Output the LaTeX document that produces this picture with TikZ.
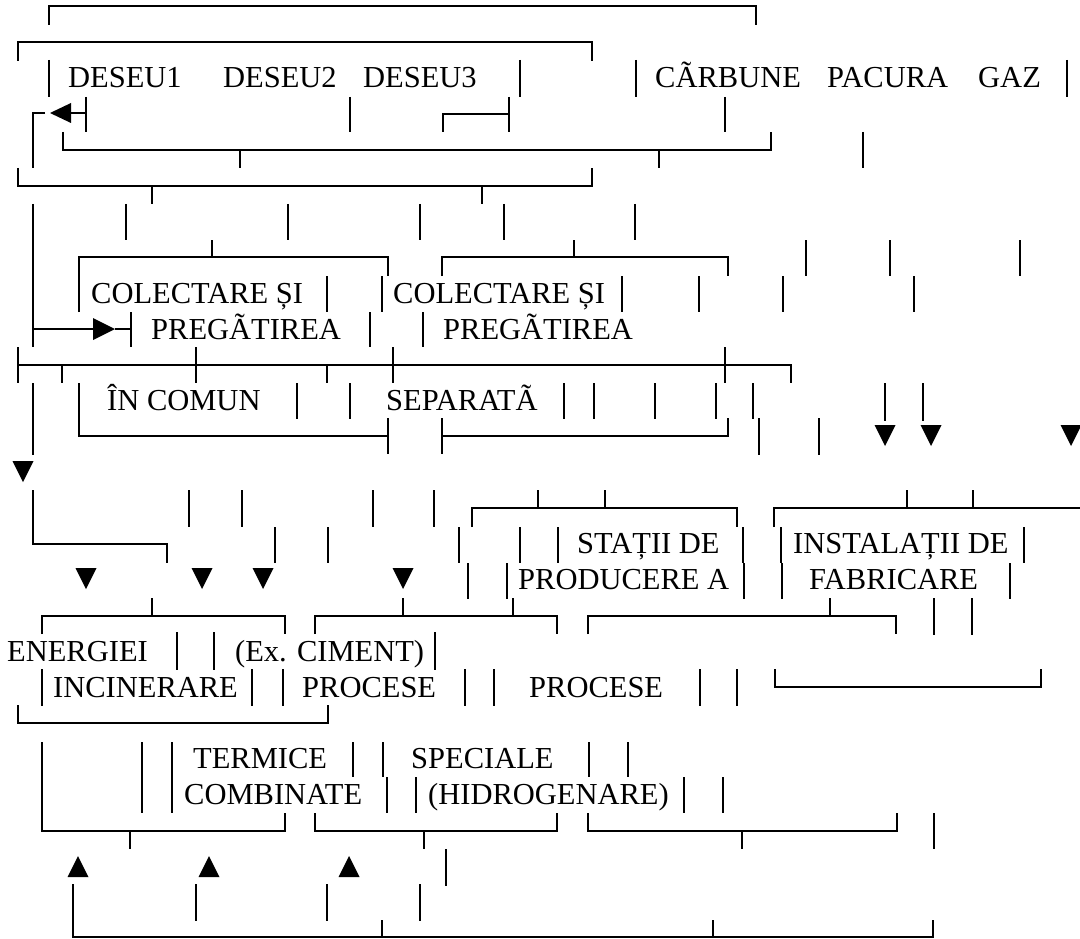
\documentclass[tikz,border=0pt]{standalone}
\usepackage{fontspec}
\setmainfont{Liberation Serif}
\begin{document}
\begin{tikzpicture}[x=1pt,y=-1pt,
  ln/.style={line width=1.9pt,line join=miter,line cap=butt},
  tri/.style={fill=black},
  lbl/.style={anchor=base west,inner sep=0pt,font=\fontsize{30.5}{36}\selectfont}]
\useasboundingbox (0,0) rectangle (1080,939);
% ---------- texts ----------
\node[lbl] (d1) at (68,88) {DESEU1};
\node[lbl] (d2) at (223,88) {DESEU2};
\node[lbl] (d3) at (363,88) {DESEU3};
\node[lbl] (carb) at (655,88) {CÃRBUNE};
\node[lbl] (pac) at (827,88) {PACURA};
\node[lbl] (gaz) at (978,88) {GAZ};
\node[lbl] (col1) at (91,303) {COLECTARE ȘI};
\node[lbl] (col2) at (393,303) {COLECTARE ȘI};
\node[lbl] (preg1) at (151,339) {PREGÃTIREA};
\node[lbl] (preg2) at (443,339) {PREGÃTIREA};
\node[lbl] (incom) at (107,410) {ÎN COMUN};
\node[lbl] (sep) at (386,410) {SEPARATÃ};
\node[lbl] (stat) at (577,553) {STAȚII DE};
\node[lbl] (inst) at (793,553) {INSTALAȚII DE};
\node[lbl] (prod) at (518,589) {PRODUCERE A};
\node[lbl] (fabr) at (809,589) {FABRICARE};
\node[lbl] (ener) at (7,661) {ENERGIEI};
\node[lbl] (cim) at (235,661) {(Ex. CIMENT)};
\node[lbl] (inc) at (53,697) {INCINERARE};
\node[lbl] (proc1) at (302,697) {PROCESE};
\node[lbl] (proc2) at (529,697) {PROCESE};
\node[lbl] (term) at (193,768) {TERMICE};
\node[lbl] (spec) at (411,768) {SPECIALE};
\node[lbl] (comb) at (184,804) {COMBINATE};
\node[lbl] (hidr) at (428,804) {(HIDROGENARE)};
% ---------- brackets and rails ----------
\draw[ln] (49,25) -- (49,6) -- (756,6) -- (756,25);
\draw[ln] (18,61) -- (18,42) -- (592,42) -- (592,61);
\draw[ln] (45,113) -- (33,113) -- (33,168);
\draw[ln] (443,132) -- (443,114) -- (509,114);
\draw[ln] (63,132) -- (63,150) -- (771,150) -- (771,132);
\draw[ln] (18,168) -- (18,186) -- (592,186) -- (592,168);
\draw[ln] (79,312) -- (79,257) -- (388,257) -- (388,276);
\draw[ln] (442,276) -- (442,257) -- (728,257) -- (728,276);
\draw[ln] (33,204) -- (33,347);
\draw[ln] (33,329) -- (93,329);
\draw[ln] (115,329) -- (131,329);
\draw[ln] (18,365) -- (791,365) -- (791,383);
\draw[ln] (33,383) -- (33,455);
\draw[ln] (79,383) -- (79,436) -- (388,436);
\draw[ln] (442,436) -- (728,436) -- (728,418);
\draw[ln] (33,490) -- (33,544) -- (167,544) -- (167,563);
\draw[ln] (472,527) -- (472,508) -- (737,508) -- (737,527);
\draw[ln] (774,527) -- (774,508) -- (1081,508);
\draw[ln] (42,634) -- (42,616) -- (285,616) -- (285,634);
\draw[ln] (315,634) -- (315,616) -- (557,616) -- (557,634);
\draw[ln] (588,634) -- (588,616) -- (896,616) -- (896,634);
\draw[ln] (775,669) -- (775,687) -- (1041,687) -- (1041,669);
\draw[ln] (18,705) -- (18,723) -- (328,723) -- (328,705);
\draw[ln] (42,742) -- (42,831) -- (285,831) -- (285,813);
\draw[ln] (315,813) -- (315,831) -- (557,831) -- (557,813);
\draw[ln] (588,813) -- (588,831) -- (897,831) -- (897,813);
\draw[ln] (73,884) -- (73,937) -- (933,937) -- (933,920);
\draw[ln] (71,113) -- (86,113);
% ---------- vertical bars ----------
\foreach \x/\a/\b in {
  49/60/97, 520/60/97, 636/60/97, 1067/60/97,
  86/97/132, 350/97/132, 509/97/132, 725/97/132,
  240/150/168, 659/150/168, 863/132/168,
  152/186/204, 482/186/204,
  126/204/240, 288/204/240, 420/204/240, 504/204/240, 635/204/240,
  212/240/257, 574/240/257, 806/240/276, 890/240/276, 1020/240/276,
  327/276/312, 382/276/312, 622/276/312, 699/276/312, 783/276/312, 914/276/312,
  131/312/347, 370/312/347, 423/312/347,
  18/347/383, 196/347/383, 393/347/383, 725/347/383, 62/365/383, 327/365/383,
  297/383/419, 350/383/419, 564/383/419, 594/383/419, 655/383/419, 716/383/419, 753/383/419,
  885/383/421, 923/383/421,
  388/418/454, 442/418/454, 759/418/455, 819/418/455,
  189/490/527, 242/490/527, 373/490/527, 434/490/527,
  538/490/508, 605/490/508, 907/490/508, 973/490/508,
  275/527/563, 328/527/563, 459/527/563, 520/527/563, 558/527/563,
  743/527/563, 781/527/563, 1024/527/563,
  468/563/599, 507/563/599, 744/563/599, 782/563/599, 1010/563/599,
  152/598/616, 403/598/616, 513/598/616, 830/598/616,
  934/598/635, 972/598/635,
  177/632/670, 214/632/670, 435/632/670,
  42/669/706, 252/669/706, 283/669/706, 465/669/706, 494/669/706, 700/669/706, 737/669/706,
  142/742/813, 172/742/813,
  353/742/777, 383/742/777, 589/742/777, 628/742/777,
  387/777/813, 416/777/813, 684/777/813, 723/777/813,
  130/831/849, 424/831/849, 742/831/849, 934/813/849,
  446/849/886,
  196/884/921, 327/884/921, 420/884/921,
  382/920/937, 713/920/937}
  \draw[ln] (\x,\a) -- (\x,\b);
% ---------- triangles ----------
\fill[tri] (50,113) -- (71,103) -- (71,123) -- cycle;
\fill[tri] (115,329) -- (93,318) -- (93,340) -- cycle;
\foreach \c/\b/\t in {885/425/446, 931/425/446, 1071/425/446,
  23/461/482, 86/568/589, 202/568/589, 263/568/589, 403/568/589}
  \fill[tri] (\c-10.5,\b) -- (\c+10.5,\b) -- (\c,\t) -- cycle;
\foreach \c in {78,209,349}
  \fill[tri] (\c-10.5,877) -- (\c+10.5,877) -- (\c,856) -- cycle;
\end{tikzpicture}
\end{document}
